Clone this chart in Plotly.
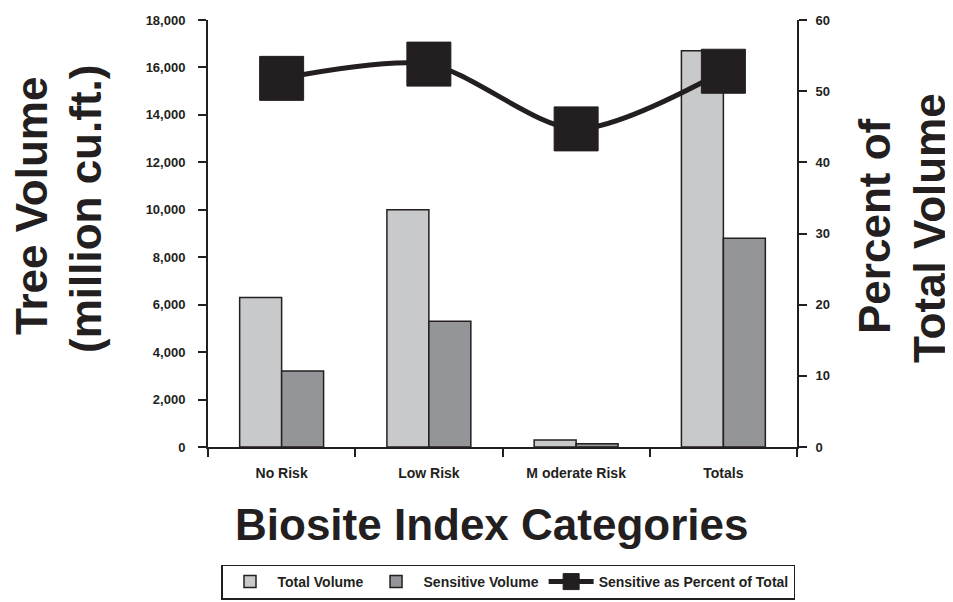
import plotly.graph_objects as go

categories = ["No Risk", "Low Risk", "M oderate Risk", "Totals"]
total_volume = [6300, 10000, 300, 16700]
sensitive_volume = [3200, 5300, 135, 8800]
sensitive_pct = [51.8, 53.8, 44.7, 52.8]
left_ticks = [0, 2000, 4000, 6000, 8000, 10000, 12000, 14000, 16000, 18000]
right_ticks = [0, 10, 20, 30, 40, 50, 60]

INK = "#231f20"
FONT = "Liberation Sans, Arial, sans-serif"

# page body adds an 8px offset; figure is sized to fit the window
OFF = 8
W, H = 953 - OFF, 602 - OFF
L, R, T, B = 208, 797, 20, 447   # plot area in window pixels
PW, PH = R - L, B - T


def px_x(x):
    return (x - L) / PW


def px_y(y):
    return (B - y) / PH


fig = go.Figure()
fig.add_trace(go.Bar(x=categories, y=total_volume, name="Total Volume",
                     marker=dict(color="#c8c9cb", line=dict(color=INK, width=1.5))))
fig.add_trace(go.Bar(x=categories, y=sensitive_volume, name="Sensitive Volume",
                     marker=dict(color="#939598", line=dict(color=INK, width=1.5))))
fig.add_trace(go.Scatter(x=categories, y=sensitive_pct, name="Sensitive as Percent of Total",
                         yaxis="y2", mode="lines+markers",
                         line=dict(color=INK, width=5, shape="spline", smoothing=0.8),
                         marker=dict(symbol="square", size=44, color=INK,
                                     line=dict(color=INK, width=1))))

tickfont = dict(family=FONT, size=13, color=INK, weight="bold")
title_font = dict(family=FONT, size=44, color=INK, weight="bold")

fig.update_layout(
    width=W, height=H,
    margin=dict(l=L - OFF, r=953 - R, t=T - OFF, b=602 - B, autoexpand=False),
    paper_bgcolor="white", plot_bgcolor="white",
    barmode="group", bargap=0.43, bargroupgap=0,
    font=dict(family=FONT, color=INK),
    xaxis=dict(type="category", showline=True, linecolor=INK, linewidth=2,
               ticks="outside", tickson="boundaries", ticklen=8, tickwidth=1.5,
               tickcolor=INK, tickfont=dict(family=FONT, size=14, color=INK, weight="bold"),
               showgrid=False, zeroline=False, automargin=False, ticklabelstandoff=12),
    yaxis=dict(range=[0, 18000], tickvals=left_ticks, tickformat=",d",
               showline=True, linecolor=INK, linewidth=2, ticks="outside",
               ticklen=8, tickwidth=2, tickcolor=INK, tickfont=tickfont,
               showgrid=False, zeroline=False, ticklabelstandoff=10, automargin=False),
    yaxis2=dict(range=[0, 60], tickvals=right_ticks, overlaying="y", side="right",
                showline=True, linecolor=INK, linewidth=2, ticks="outside",
                ticklen=8, tickwidth=2, tickcolor=INK, tickfont=tickfont,
                showgrid=False, zeroline=False, ticklabelstandoff=6, automargin=False),
    yaxis3=dict(range=[0, 18000], tickvals=left_ticks, overlaying="y", side="left",
                anchor="x", ticks="inside", ticklen=8, tickwidth=2, tickcolor=INK,
                showticklabels=False, showline=False, showgrid=False, zeroline=False,
                automargin=False),
    yaxis4=dict(range=[0, 60], tickvals=right_ticks, overlaying="y", side="right",
                anchor="x", ticks="inside", ticklen=8, tickwidth=2, tickcolor=INK,
                showticklabels=False, showline=False, showgrid=False, zeroline=False,
                automargin=False),
    xaxis2=dict(range=[-0.5, 3.5], tickvals=[0.5, 1.5, 2.5], overlaying="x",
                side="bottom", anchor="y", ticks="inside", ticklen=8, tickwidth=1.5,
                tickcolor=INK, showticklabels=False, showline=False,
                showgrid=False, zeroline=False, automargin=False),
    legend=dict(orientation="h", x=px_x(508), y=px_y(582), xanchor="center", yanchor="middle",
                bordercolor=INK, borderwidth=1.5, bgcolor="white",
                font=dict(family=FONT, size=14, color=INK, weight="bold"),
                itemwidth=45, traceorder="normal", tracegroupgap=0),
    showlegend=True,
    annotations=[
        dict(text="Tree Volume", xref="paper", yref="paper",
             x=px_x(31), y=px_y(206), xanchor="center", yanchor="middle",
             textangle=-90, showarrow=False, font=title_font),
        dict(text="(million cu.ft.)", xref="paper", yref="paper",
             x=px_x(85), y=px_y(209), xanchor="center", yanchor="middle",
             textangle=-90, showarrow=False, font=title_font),
        dict(text="Percent of", xref="paper", yref="paper",
             x=px_x(874), y=px_y(226), xanchor="center", yanchor="middle",
             textangle=-90, showarrow=False, font=title_font),
        dict(text="Total Volume", xref="paper", yref="paper",
             x=px_x(929), y=px_y(228), xanchor="center", yanchor="middle",
             textangle=-90, showarrow=False, font=title_font),
        dict(text="Biosite Index Categories", xref="paper", yref="paper",
             x=px_x(491), y=px_y(524), xanchor="center", yanchor="middle",
             showarrow=False, font=title_font),
    ],
)

fig.write_html("out.html")
